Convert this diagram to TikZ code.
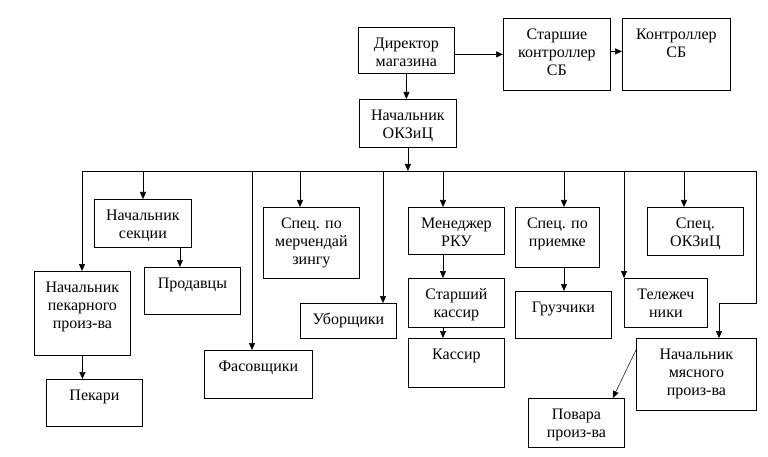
\documentclass[tikz,border=0pt]{standalone}
\usepackage{fontspec}
\setmainfont{Liberation Serif}
\usetikzlibrary{arrows.meta}

\tikzset{
  box/.style={draw, line width=0.8pt, anchor=north west, align=center,
    inner xsep=2pt, inner ysep=0pt,
    font=\fontsize{16}{18}\selectfont},
  link/.style={line width=0.7pt, -{Triangle[length=7pt,width=6pt]}}
}

\begin{document}
\begin{tikzpicture}[x=1pt, y=-1pt]
\useasboundingbox (0,0) rectangle (768,457);

\node[box, minimum width=96pt, text height=39pt, text depth=7pt] (dir) at (358,27) {Директор\\магазина};
\node[box, minimum width=107pt, text height=57pt, text depth=15pt] (st) at (503,18) {Старшие\\контроллер\\СБ};
\node[box, minimum width=108pt, text height=39pt, text depth=33pt] (kontr) at (622,18) {Контроллер\\СБ};
\node[box, minimum width=97pt, text height=39pt, text depth=9pt] (okz) at (359,99) {Начальник\\ОКЗиЦ};

\node[box, minimum width=97pt, text height=39pt, text depth=9pt] (sek) at (94,199) {Начальник\\секции};
\node[box, minimum width=96pt, text height=21pt, text depth=26pt] (prod) at (144,267) {Продавцы};
\node[box, minimum width=96pt, text height=57pt, text depth=27pt] (pek) at (34,271) {Начальник\\пекарного\\произ-ва};
\node[box, minimum width=96pt, text height=21pt, text depth=26pt] (pekari) at (46,379) {Пекари};
\node[box, minimum width=108pt, text height=21pt, text depth=27pt] (fas) at (204,350) {Фасовщики};
\node[box, minimum width=96pt, text height=57pt, text depth=14pt] (merch) at (263,207) {Спец. по\\мерчендай\\зингу};
\node[box, minimum width=96pt, text height=21pt, text depth=14pt] (ubor) at (300,303) {Уборщики};
\node[box, minimum width=96pt, text height=39pt, text depth=8pt] (rku) at (408,207) {Менеджер\\РКУ};
\node[box, minimum width=96pt, text height=39pt, text depth=10pt] (skas) at (408,278) {Старший\\кассир};
\node[box, minimum width=96pt, text height=21pt, text depth=28pt] (kas) at (408,338) {Кассир};
\node[box, minimum width=84pt, text height=39pt, text depth=21pt] (priem) at (515,207) {Спец. по\\приемке};
\node[box, minimum width=96pt, text height=21pt, text depth=26pt] (gruz) at (515,291) {Грузчики};
\node[box, minimum width=83pt, text height=39pt, text depth=10pt] (tel) at (624,278) {Тележеч\\ники};
\node[box, minimum width=96pt, text height=39pt, text depth=9pt] (sokz) at (647,207) {Спец.\\ОКЗиЦ};
\node[box, minimum width=120pt, text height=57pt, text depth=15pt] (myas) at (636,338) {Начальник\\мясного\\произ-ва};
\node[box, minimum width=96pt, text height=39pt, text depth=10pt] (povar) at (528,398) {Повара\\произ-ва};

\draw[link] (dir.east |- st.west) -- (st.west);
\draw[link] ([yshift=3pt]st.east) -- ([yshift=3pt]kontr.west);
\draw[link] (dir.south) -- (dir.south |- okz.north);

\coordinate (bR) at (756,171);
\coordinate (turn) at (719,303);
\foreach \x/\n in {82/pek, 143/sek, 252/fas, 300/merch, 383/ubor,
	443/rku, 564/priem, 624/tel, 684/sokz} {
    \coordinate (d\n) at (\x,171);
    \draw[link] (d\n) -- (d\n |- \n.north);
}
\draw[line width=0.7pt] (dpek) -- (bR);
\draw[link] (okz.south) -- (okz.south |- bR);
\draw[link] (bR) |- (turn) -- (turn |- myas.north);

\draw[link] ([xshift=37pt]sek.south) -- ([xshift=37pt]sek.south |- prod.north);
\draw[link] (pek.south) -- (pek.south |- pekari.north);
\draw[link] (drku |- rku.south) -- (drku |- skas.north);
\draw[link] (drku |- skas.south) -- (drku |- kas.north);
\draw[link] (dpriem |- priem.south) -- (dpriem |- gruz.north);
\draw[link, line width=0.5pt] ([yshift=-12pt]myas.north west) -- ([xshift=-12pt]povar.north east);
\end{tikzpicture}
\end{document}
